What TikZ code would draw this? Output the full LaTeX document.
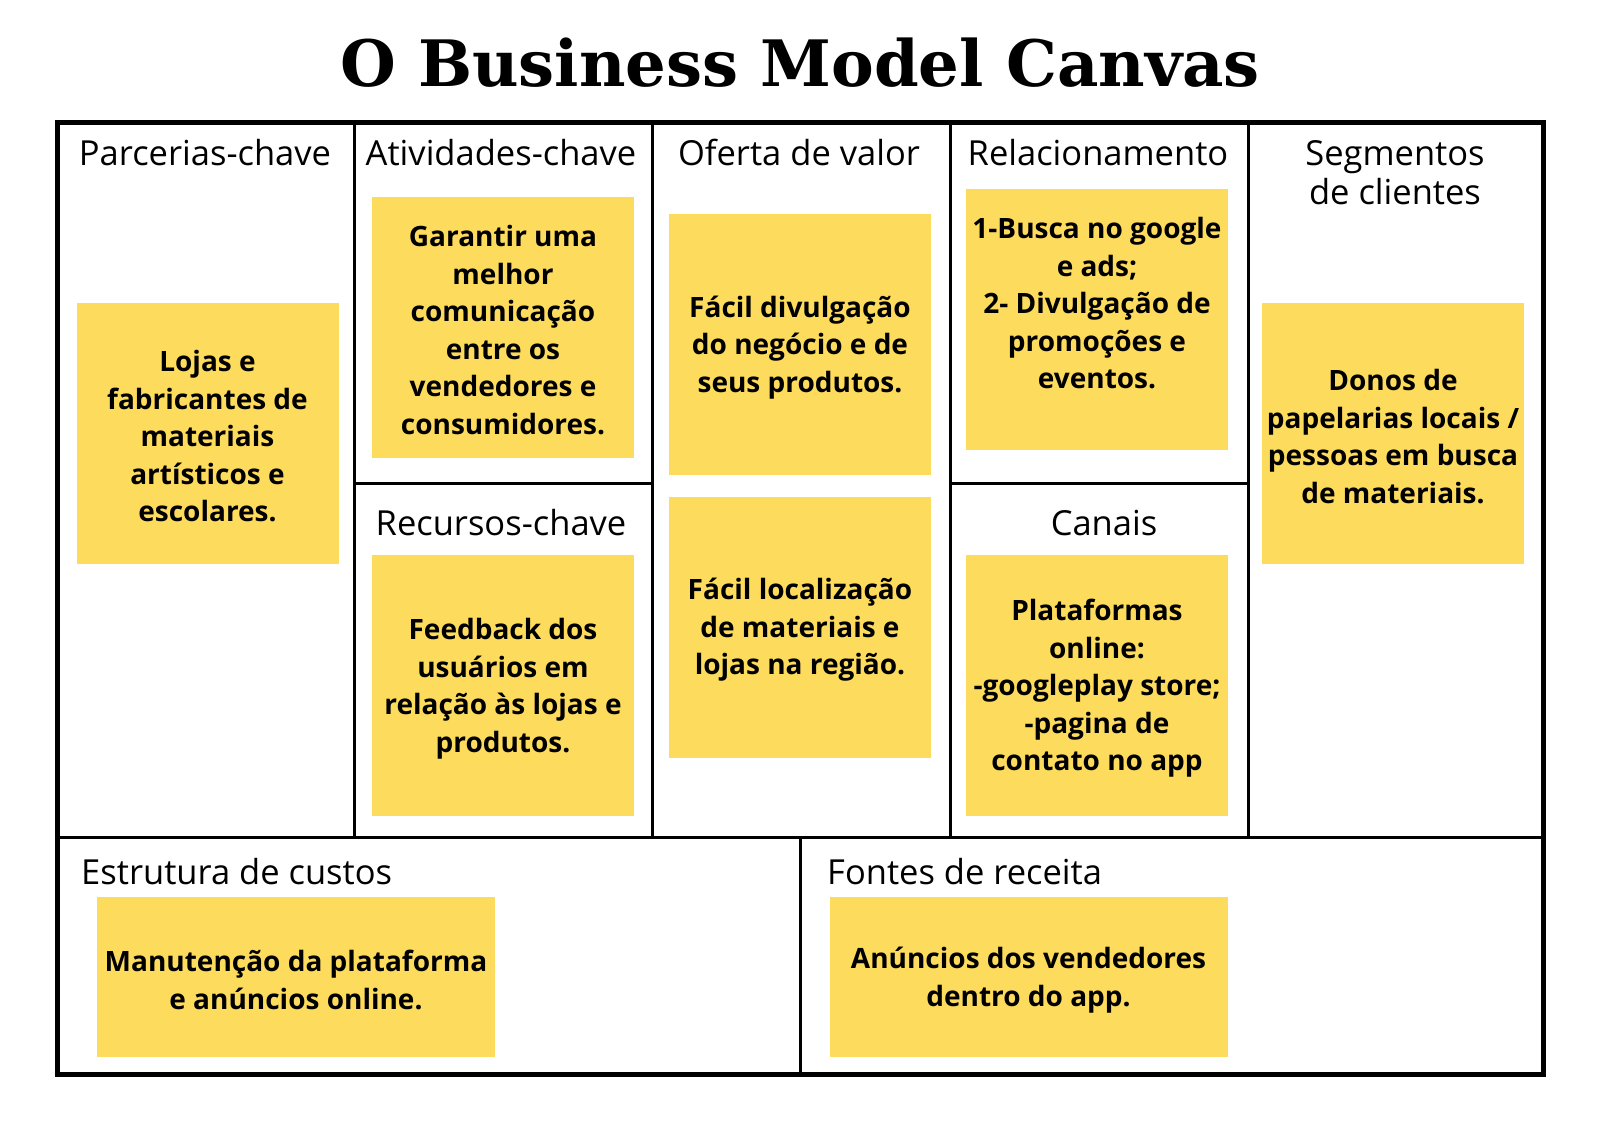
\documentclass[tikz,border=0pt]{standalone}
\usepackage{fontspec}
\setmainfont{Open Sans}
\newfontfamily\titlefont{DejaVu Serif}
\definecolor{yel}{HTML}{FDDB5C}
\begin{document}
\begin{tikzpicture}[x=1pt,y=-1pt,
  ybox/.style={fill=yel, draw=none, inner sep=0pt, minimum width=262pt, minimum height=261pt},
  wbox/.style={fill=yel, draw=none, inner sep=0pt, minimum width=398pt, minimum height=160pt},
  btext/.style={font=\bfseries\fontsize{28}{37.5}\selectfont, align=center, inner sep=0pt, yshift=-3pt},
  head/.style={font=\fontsize{34.5}{40}\selectfont, inner sep=0pt, anchor=base},
  gridline/.style={line width=3pt, black},
  outerline/.style={line width=5pt, black}]
\useasboundingbox[fill=white] (0,0) rectangle (1600,1130);

% title
\node[font=\titlefont\bfseries\fontsize{64}{76}\selectfont, anchor=base, inner sep=0pt] (title) at (800,86) {O Business Model Canvas};

% grid
\draw[gridline] (354,122) -- (354,837);
\draw[gridline] (652,122) -- (652,837);
\draw[gridline] (950,122) -- (950,837);
\draw[gridline] (1248,122) -- (1248,837);
\draw[gridline] (57,837) -- (1543,837);
\draw[gridline] (800,837) -- (800,1074);
\draw[gridline] (354,483) -- (652,483);
\draw[gridline] (950,483) -- (1248,483);
\draw[outerline] (57,122) rectangle (1543,1074);

% headers
\node[head] (h1) at (205,165.5) {Parcerias-chave};
\node[head] (h2) at (501,165.5) {Atividades-chave};
\node[head] (h3) at (799,165.5) {Oferta de valor};
\node[head] (h4) at (1098,165.5) {Relacionamento};
\node[head] (h5a) at (1395,165.5) {Segmentos};
\node[head] (h5b) at (1395,204) {de clientes};
\node[head] (h6) at (501,535) {Recursos-chave};
\node[head] (h7) at (1104,535) {Canais};
\node[head, anchor=base west] (h8) at (81,884) {Estrutura de custos};
\node[head, anchor=base west] (h9) at (827,884) {Fontes de receita};

% yellow notes
\node[ybox] (b1) at (207.5,433.5) {};
\node[ybox] (b2) at (503,327) {};
\node[ybox] (b3) at (503,685.5) {};
\node[ybox] (b4) at (800,344.5) {};
\node[ybox] (b5) at (800,627) {};
\node[ybox] (b6) at (1097,319) {};
\node[ybox] (b7) at (1097,685.5) {};
\node[ybox] (b8) at (1393,433.5) {};
\node[wbox] (b9) at (296,977) {};
\node[wbox] (b10) at (1028.5,977) {};

% note texts
\node[btext] (t1) at (b1.center) {Lojas e\\fabricantes de\\materiais\\artísticos e\\escolares.};
\node[btext] (t2) at (b2.center) {Garantir uma\\melhor\\comunicação\\entre os\\vendedores e\\consumidores.};
\node[btext] (t3) at (b3.center) {Feedback dos\\usuários em\\relação às lojas e\\produtos.};
\node[btext] (t4) at (b4.center) {Fácil divulgação\\do negócio e de\\seus produtos.};
\node[btext] (t5) at (b5.center) {Fácil localização\\de materiais e\\lojas na região.};
\node[btext] (t6) at (1097,300.5) {1-Busca no google\\e ads;\\2- Divulgação de\\promoções e\\eventos.};
\node[btext] (t7) at (b7.center) {Plataformas\\online:\\-googleplay store;\\-pagina de\\contato no app};
\node[btext] (t8) at (b8.center) {Donos de\\papelarias locais /\\pessoas em busca\\de materiais.};
\node[btext] (t9) at (b9.center) {Manutenção da plataforma\\e anúncios online.};
\node[btext] (t10) at (b10.center) {Anúncios dos vendedores\\dentro do app.};
\end{tikzpicture}
\end{document}
